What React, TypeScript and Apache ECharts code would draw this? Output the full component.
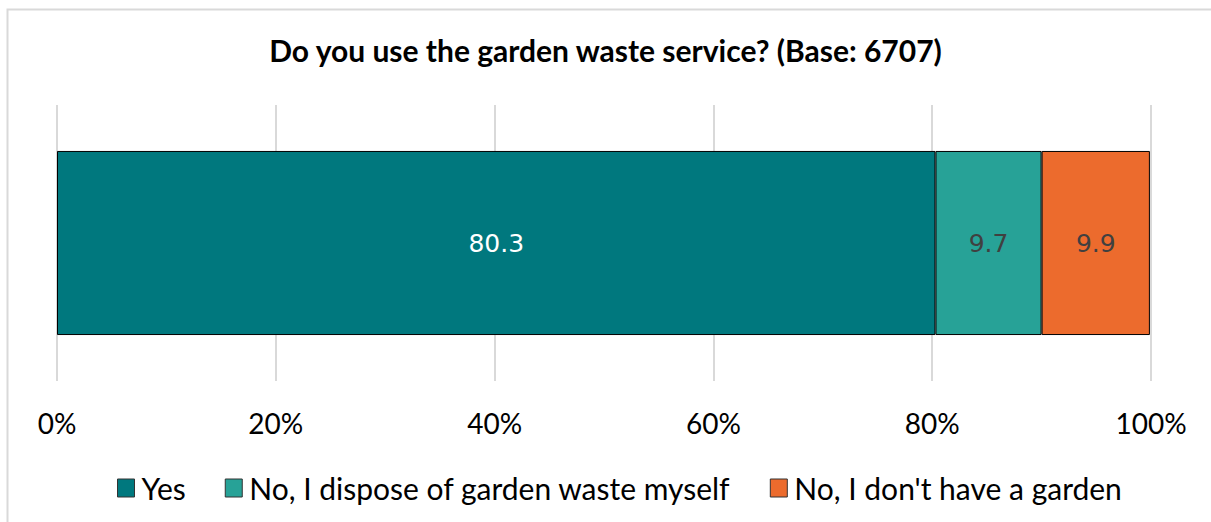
import React, { useEffect, useRef } from "react";
import * as echarts from "echarts";

const categories = ["Do you use the garden waste service?"];
const seriesNames = ["Yes", "No, I dispose of garden waste myself", "No, I don't have a garden"];
const yesValues = [80.3];
const disposeValues = [9.7];
const noGardenValues = [9.9];
const tickLabels = ["0%", "20%", "40%", "60%", "80%", "100%"];

const colors = ["#00787E", "#27A297", "#EC6B2D"];
const labelColors = ["#ffffff", "#404040", "#404040"];

export default function App() {
  const ref = useRef<HTMLDivElement>(null);
  useEffect(() => {
    if (!ref.current) return;
    const chart = echarts.init(ref.current, null, { renderer: "svg" });
    const values = [yesValues, disposeValues, noGardenValues];
    chart.setOption({
      animation: false,
      backgroundColor: "#ffffff",
      title: {
        text: "Do you use the garden waste service? (Base: 6707)",
        left: "center",
        top: 30,
        textStyle: { fontFamily: "Lato", fontWeight: "bold", fontSize: 30, color: "#000000" },
      },
      graphic: [
        {
          type: "rect",
          shape: { x: 7.5, y: 9.5, width: 1400, height: 700 },
          style: { fill: "none", stroke: "#d9d9d9", lineWidth: 2 },
          silent: true,
          z: -1,
        },
      ],
      grid: { left: 57, right: 60, top: 105, height: 276 },
      xAxis: {
        type: "value",
        min: 0,
        max: 100,
        interval: 20,
        axisLine: { show: false },
        axisTick: { show: false },
        splitLine: { show: true, lineStyle: { color: "#d9d9d9", width: 2 } },
        axisLabel: {
          margin: 28,
          fontFamily: "Lato",
          fontSize: 28,
          color: "#000000",
          formatter: (v: number) => tickLabels[Math.round(v / 20)],
        },
      },
      yAxis: {
        type: "category",
        data: categories,
        show: false,
      },
      legend: {
        bottom: 19,
        left: 117,
        padding: 0,
        itemWidth: 17,
        itemHeight: 18,
        itemGap: 39,
        textStyle: { fontFamily: "Lato", fontSize: 30, color: "#000000", padding: [0, 0, 0, 2] },
        data: seriesNames.map((n, i) => ({
          name: n,
          icon: "rect",
          itemStyle: { color: colors[i], borderColor: "#333333", borderWidth: 1 },
        })),
      },
      series: seriesNames.map((name, i) => ({
        name,
        type: "bar",
        stack: "total",
        barWidth: "66.7%",
        data: values[i],
        itemStyle: { color: colors[i], borderColor: "#000000", borderWidth: 1 },
        label: {
          show: true,
          position: "inside",
          fontFamily: "DejaVu Sans",
          fontSize: 25,
          color: labelColors[i],
          formatter: (p: any) => String(p.value),
        },
      })),
    });
    return () => chart.dispose();
  }, []);
  return (
    <div
      ref={ref}
      style={{ position: "fixed", left: 0, top: 0, width: 1211, height: 522 }}
    />
  );
}
